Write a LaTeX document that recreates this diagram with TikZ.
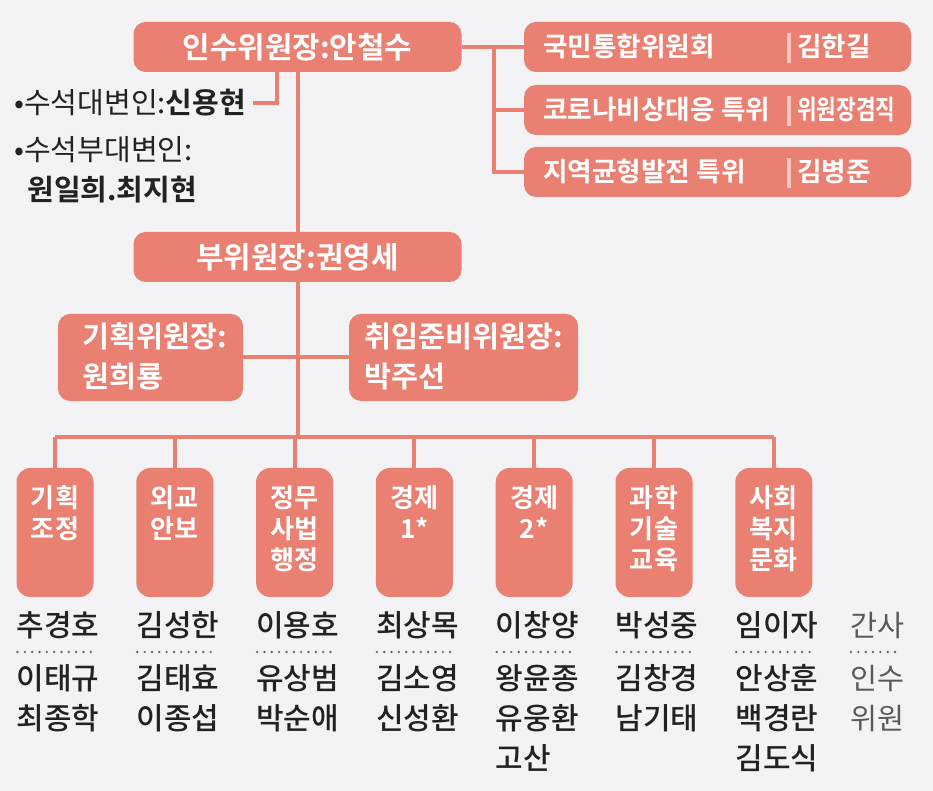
\documentclass[tikz,border=0pt]{standalone}
\usepackage{graphicx}
\usepackage{fontspec}
\setmainfont{Noto Sans CJK KR}[BoldFont={Noto Sans CJK KR Bold}]
\newfontfamily\medium{Noto Sans CJK KR Medium}
\usetikzlibrary{positioning,calc}
\definecolor{salmon}{RGB}{233,128,114}
\definecolor{paper}{RGB}{243,243,245}
\definecolor{ink}{RGB}{34,34,34}
\definecolor{barpink}{RGB}{247,200,192}
\definecolor{dotgray}{RGB}{105,105,105}
\definecolor{softink}{RGB}{90,90,90}

\begin{document}
\begin{tikzpicture}[x=0.75pt, y=-0.75pt,
		link/.style={draw=salmon, line width=3pt},
		box/.style={fill=salmon, rounded corners=9pt, inner sep=0pt},
		headbox/.style={box, minimum width=246pt, minimum height=37.5pt,
				text=white, font=\bfseries\fontsize{22.4}{26}\selectfont},
		tfbox/.style={box, minimum width=290.25pt, minimum height=37.5pt},
		tftxt/.style={anchor=base west, inner sep=0pt, text=white,
				font=\bfseries\fontsize{20}{24}\selectfont},
		sepbar/.style={fill=barpink, minimum width=3pt, minimum height=22pt, inner sep=0pt},
		midbox/.style={box, minimum height=65.25pt},
		midtxt/.style={anchor=base west, inner sep=0pt, text=white,
				font=\bfseries\fontsize{22}{26}\selectfont},
		divbox/.style={box, rounded corners=10.5pt, minimum width=57.75pt, minimum height=96.75pt},
		divtxt/.style={anchor=base, inner sep=0pt, text=white,
				font=\bfseries\fontsize{19.6}{23}\selectfont},
		member/.style={anchor=base west, inner sep=0pt, text=ink,
				font=\medium\fontsize{22.5}{26}\selectfont},
		legend/.style={member, text=softink, font=\fontsize{22}{26}\selectfont},
		note/.style={anchor=base west, inner sep=0pt, text=ink,
				font=\fontsize{21.8}{26}\selectfont},
		dots/.style={dotgray, line width=2pt, line cap=round, dash pattern=on 0pt off 5.5pt}]

	% ---- sfondo e bordi ----
	\fill[paper] (0,0) rectangle (933,791);
	\useasboundingbox (0,0) rectangle (933,791);

	% ---- vertice ----
	\node[headbox] (top) at (297.5,47) {인수위원장:안철수};
	\node[headbox] (vice) at (297.5,257) {부위원장:권영세};

	% ---- portavoce ----
	\node[note] (spk) at (14,114) {•수석대변인:\textbf{신용현}};
	\node[note] (dep) at (14,161) {•수석부대변인:};
	\node[note, font=\bfseries\fontsize{21.8}{26}\selectfont] (depn) at (27,201) {원일희.최지현};

	% ---- comitati speciali a destra ----
	\node[tfbox] (kuk) at (717.5,47) {};
	\node[tfbox] (corona) at (717.5,110) {};
	\node[tfbox] (jiyeok) at (717.5,172) {};
	\node[tftxt] (kukT) at (543,57) {국민통합위원회};
	\node[tftxt] (coronaT) at (543,120) {코로나비상대응 특위};
	\node[tftxt] (jiyeokT) at (543,182) {지역균형발전 특위};
	\node[sepbar] (kukS) at (789,48) {};
	\node[sepbar] (coronaS) at (789,111) {};
	\node[sepbar] (jiyeokS) at (789,173) {};
	\node[tftxt] (kukN) at (797,57) {김한길};
	\node[tftxt] (coronaN) at (797,120) {\scalebox{0.8}[1]{위원장겸직}};
	\node[tftxt] (jiyeokN) at (797,182) {김병준};

	% ---- comitati intermedi ----
	\node[midbox, minimum width=138.75pt] (plan) at (150.5,357.5) {};
	\node[midbox, minimum width=171.75pt] (inaug) at (463.5,357.5) {};
	\node[midtxt] (planT) at (82,348) {기획위원장:};
	\node[midtxt] (planN) at (82,388) {원희룡};
	\node[midtxt] (inaugT) at (364,348) {취임준비위원장:};
	\node[midtxt] (inaugN) at (364,388) {박주선};

	% ---- collegamenti ----
	\coordinate (rsplit) at (494,47);
	\coordinate (bar) at (297,437);
	\draw[link] (top.east) -- (kuk.west);
	\draw[link] (rsplit) |- (jiyeok.west);
	\draw[link] (rsplit |- corona.west) -- (corona.west);
	\draw[link] ([xshift=-15.4pt]top.south) |- ([xshift=5pt]spk.east);
	\draw[link] (top.south) -- (vice.north);
	\draw[link] (vice.south) -- (vice.south |- bar);
	\draw[link] (plan.east) -- (inaug.west);

	% ---- sottocommissioni ----
	\foreach \i/\lbl/\first/\rest in {
			1/{기획,조정}/추경호/{이태규,최종학},
			2/{외교,안보}/김성한/{김태효,이종섭},
			3/{정무,사법,행정}/이용호/{유상범,박순애},
			4/{경제,1*}/최상목/{김소영,신성환},
			5/{경제,2*}/이창양/{왕윤종,유웅환,고산},
			6/{과학,기술,교육}/박성중/{김창경,남기태},
			7/{사회,복지,문화}/임이자/{안상훈,백경란,김도식}}{
		\pgfmathsetmacro{\cx}{55+119.8*(\i-1)}
		\pgfmathsetmacro{\lx}{\cx-38.5}
		\node[divbox] (d\i) at (\cx,532.5) {};
		\foreach \ln [count=\k] in \lbl
		\node[divtxt] (t\i-\k) at (\cx,477+31*\k) {\ln};
		\node[member] (m\i) at (\lx,636.5) {\first};
		\draw[dots] (\lx+1,652) -- (\lx+76,652);
		\foreach \nm [count=\k] in \rest
		\node[member] (r\i-\k) at (\lx,649.5+40*\k) {\nm};
		\draw[link] (d\i.north) -- (d\i.north |- bar);
	}
	\draw[link] (d1.north |- bar) -- (d7.north |- bar);

	% ---- legenda ----
	\node[legend] (gan) at (850,636.5) {간사};
	\draw[dots] (851,652) -- (901,652);
	\node[legend] (insu1) at (850,689.5) {인수};
	\node[legend] (insu2) at (850,729.5) {위원};

\end{tikzpicture}
\end{document}
